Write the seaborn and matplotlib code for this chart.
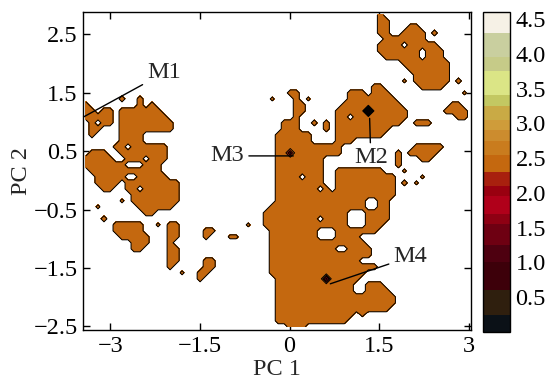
"""Free-energy landscape on PC1/PC2 with the four labelled minima."""
import matplotlib
matplotlib.use("Agg")
import matplotlib.pyplot as plt
import numpy as np
import seaborn as sns
from matplotlib.cm import ScalarMappable
from matplotlib.colors import BoundaryNorm, ListedColormap

# axis range (PC units)
x_lim = (-3.45, 3.04)
y_lim = (-2.56, 2.88)
x_ticks = [-3, -1.5, 0, 1.5, 3]
y_ticks = [-2.5, -1.5, -0.5, 0.5, 1.5, 2.5]

# centres of the first / last grid cell (top row first)
x_first, x_last = -3.405, 3.027
y_first, y_last = 2.829, -2.505

# free energy per cell: '#' sampled basin, '+' barely sampled,
# '0' / '1' / '2' minima of different depth, '.' not sampled
g_values = {"#": 2.45, "+": 2.5, "0": 0.05, "1": 1.6, "2": 1.9, ".": 2.65}

# colour bands of the free-energy bar
levels = [0, 0.25, 0.6, 1.0, 1.25, 1.55, 1.7, 1.95, 2.1, 2.3, 2.55,
          2.75, 2.9, 3.05, 3.25, 3.4, 3.75, 3.95, 4.3, 4.6]
level_colors = ["#0b1117", "#2f1f0e", "#3d000a", "#4e0010", "#6e0012",
                "#8e0013", "#b0001a", "#990010", "#a8200e", "#c4680f",
                "#c97c1e", "#cc8c2e", "#cf9c3a", "#c9aa45", "#c3c862",
                "#dbe586", "#c6cb88", "#c9cf9f", "#f6f1e6"]
cbar_ticks = [0.5, 1.0, 1.5, 2.0, 2.5, 3.0, 3.5, 4.0, 4.5]

# minima labels, minimum positions, label positions
minima_names = ["M1", "M2", "M3", "M4"]
minima_xy = [(-3.445, 1.085), (1.34, 1.06), (0.063, 0.418), (0.682, -1.77)]
label_xy = [(-2.383, 1.837), (1.36, 0.384), (-0.758, 0.418), (1.738, -1.308)]
label_ha = ["left", "center", "right", "left"]

# occupancy map, 65 columns, spaces every 10 columns only for reading
occupancy = [
    ".......... .......... .......... .......... .........# .......... .....",
    ".......... .......... .......... .......... .........# #......... .....",
    ".......... .......... .......... .......... .........# #...##.... .....",
    ".......... .......... .......... .......... .........# #..####.#. .....",
    ".......... .......... .......... .......... .......... #######... .....",
    ".......... .......... .......... .......... .........# ###.#####. .....",
    ".......... .......... .......... .......... .........# ######.### .....",
    ".......... .......... .......... .......... .......... ######.### .....",
    ".......... .......... .......... .......... .......... ...####### #....",
    ".......... .......... .......... .......... .......... ....###### #....",
    ".......... .......... .......... .......... .......... .....##### #....",
    ".......... .......... .......... .......... .......... ...+.##### #.#..",
    ".......... .......... .......... .......... ........## ......#### .....",
    ".......... .......... .......... ....##.... ....###.## #......... ...+.",
    "......#..# .......... .......... .+...#.+.. ....###### ##........ .....",
    "#........# .#........ .......... .....##... ...####### ###....... .##..",
    "##.##.#### ###....... .......... .....##... ..#####0## ####...... ####.",
    "#####.#### ####...... .......... .....#.... ..##.##### ####...... ..##.",
    ".#.##.#### #####..... .......... ...###..#. #.######## ###..###.. .....",
    ".##...#### #####..... .......... ...###.... #.######## #......... .....",
    ".#....#### .......... .......... ..######.. ..######## .......... .....",
    "......#### .......... .......... ..######.. ..###..... .......... .....",
    ".....##.## ####...... .......... ..######## ###....... .....##### .....",
    ".###..#### ####...... .......... ..##2##### ###....... ..#.#####. .....",
    "#####..### .###...... .......... ..######## .......... ..#...##.. .....",
    "#######... ###....... .......... ..######## .......... ..#....... .....",
    ".######### ###....... .......... ..######## ..######## ...+...... .....",
    "..#####..# ####...... .......... ..####.### ..######## ##....+... .....",
    "..####.### ######.... .......... ..######## ..######## ##.#.+.... .....",
    "...##..##. ######.... .......... ..#######. #.######## ##........ .....",
    "........## ######.... .......... ..######## ########## ##........ .....",
    "......+.## ######.... .......... ..######## #######..# #......... .....",
    "..+......# #####..... .......... .######### #######..# #......... .....",
    ".......... ##........ .......... ########## ####...### #......... .....",
    "...#...... .......... .......... #########. ####...### #......... .....",
    ".....##### ..+.##.... .......+.. ########## ####...### .......... .....",
    ".....##### ....##.... ##........ .########. ..#######. .......... .....",
    "......#### #...##.... #...++.... .########. ..####.... .......... .....",
    "........## #...#..... .......... .######### #######... .......... .....",
    "........## ....##.... .......... .######### ##..####.. .......... .....",
    ".......... ....##.... .......... .######### ########.. .......... .....",
    ".......... ....##.... ##........ .######### ######.... .......... .....",
    ".......... ....#..... ##........ .######### #########. .......... .....",
    ".......... ......+..# #......... .######### #######... .......... .....",
    ".......... .........# .......... ..######## 1#####.... .......... .....",
    ".......... .......... .......... ..######## #####..### .......... .....",
    ".......... .......... .......... ..######## #####..### #......... .....",
    ".......... .......... .......... ..######## ########## ##........ .....",
    ".......... .......... .......... ..######## ########## ##........ .....",
    ".......... .......... .......... ..######## ########## #......... .....",
    ".......... .......... .......... ..######## #####.+... .......... .....",
    ".......... .......... .......... ..######## ####...... .......... .....",
    ".......... .......... .......... ....###... .......... .......... .....",
]

n_col = 65
rows = [r.replace(" ", "").ljust(n_col, ".") for r in occupancy]
grid = np.array([[g_values[ch] for ch in r] for r in rows])
x = np.linspace(x_first, x_last, n_col)
y = np.linspace(y_first, y_last, len(rows))

sns.set_theme(style="ticks")
plt.rcParams["font.family"] = ["Liberation Serif", "DejaVu Serif"]
plt.rcParams["axes.edgecolor"] = "black"
plt.rcParams["axes.linewidth"] = 1.0
plt.rcParams["xtick.color"] = "black"
plt.rcParams["ytick.color"] = "black"
fs = 17.5

cmap = ListedColormap(level_colors)
norm = BoundaryNorm(levels, cmap.N)

fig = plt.figure(figsize=(5.49, 3.83), dpi=100)
ax = fig.add_axes([0.1517, 0.1384, 0.7067, 0.8303])
cax = fig.add_axes([0.8798, 0.1332, 0.0492, 0.8355])

# only the sampled bands are filled, the rest stays white
n_fill = levels.index(2.55) + 1
ax.contourf(x, y, grid, levels=levels[:n_fill], cmap=cmap, norm=norm)
ax.contour(x, y, grid, levels=levels[1:n_fill], colors="black", linewidths=0.7)

for name, pt, txt, ha in zip(minima_names, minima_xy, label_xy, label_ha):
    ax.annotate(name, xy=pt, xytext=txt, ha=ha, va="center", fontsize=fs,
                annotation_clip=False,
                arrowprops=dict(arrowstyle="-", color="black", lw=1.0,
                                shrinkA=1, shrinkB=0))

ax.set_xlim(*x_lim)
ax.set_ylim(*y_lim)
ax.set_xticks(x_ticks)
ax.set_xticklabels([f"{v:g}".replace("-", "\u2212") for v in x_ticks])
ax.set_yticks(y_ticks)
ax.set_yticklabels([f"{v:g}".replace("-", "\u2212") for v in y_ticks])
ax.tick_params(direction="in", top=True, right=True, length=5, width=1,
               labelsize=fs, pad=4)
ax.set_xlabel("PC 1", fontsize=fs, labelpad=2)
ax.set_ylabel("PC 2", fontsize=fs, labelpad=1)

cb = fig.colorbar(ScalarMappable(norm=norm, cmap=cmap), cax=cax,
                  spacing="proportional")
cb.set_ticks(cbar_ticks)
cb.set_ticklabels([f"{v:.1f}" for v in cbar_ticks])
cb.outline.set_edgecolor("black")
cb.outline.set_linewidth(1.0)
cax.tick_params(direction="in", left=True, right=True, length=4, width=1,
                labelsize=fs, pad=4)
cax.minorticks_off()

fig.savefig("out.png", dpi=100)
plt.close(fig)
